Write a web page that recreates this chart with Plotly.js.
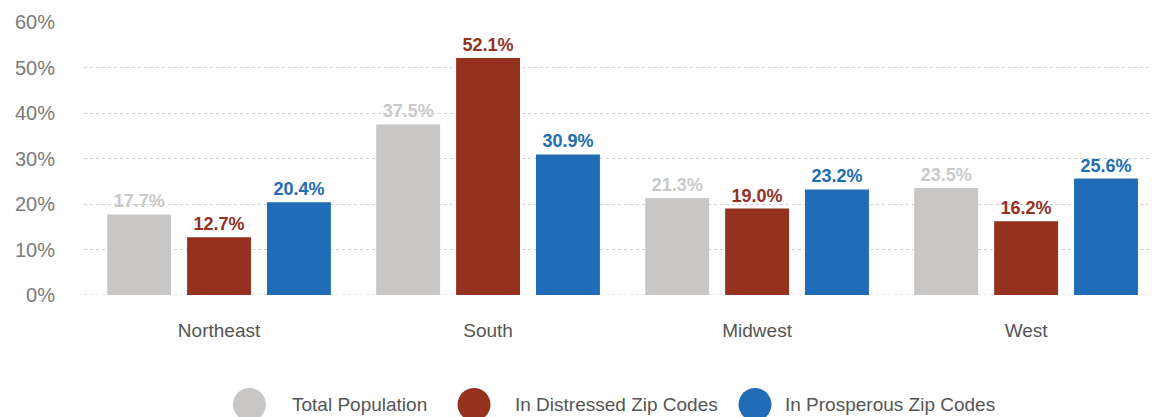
<!DOCTYPE html>
<html>
<head>
<meta charset="utf-8">
<script src="https://cdn.plot.ly/plotly-3.0.1.min.js"></script>
<style>html,body{margin:0;padding:0;background:#fff;}#chart{width:1152px;height:417px;}</style>
</head>
<body>
<div id="chart"></div>
<script>
const regions = ["Northeast", "South", "Midwest", "West"];
const totalPopulation = [17.7, 37.5, 21.3, 23.5];
const distressed = [12.7, 52.1, 19.0, 16.2];
const prosperous = [20.4, 30.9, 23.2, 25.6];
const seriesNames = ["Total Population", "In Distressed Zip Codes", "In Prosperous Zip Codes"];
const yTicks = [0, 10, 20, 30, 40, 50, 60];

const colors = ["#c8c7c5", "#94311f", "#206cb6"];
const labelColors = ["#cacaca", "#94311f", "#206cb6"];
const seriesValues = [totalPopulation, distressed, prosperous];

const traces = seriesValues.map((vals, i) => ({
  type: "bar",
  name: seriesNames[i],
  x: regions,
  y: vals,
  marker: {color: colors[i]},
  texttemplate: "%{y:.1f}%",
  textposition: "outside",
  cliponaxis: false,
  textfont: {family: "Liberation Sans, Arial, sans-serif", size: 18, weight: "bold", color: labelColors[i]},
  hoverinfo: "skip",
  showlegend: false
}));

const W = 1152, H = 417, L = 84, R = 0, T = 22, B = 122;
const pw = W - L - R, ph = H - T - B;
const px = x => (x - L) / pw;
const py = y => (H - B - y) / ph;

const legendX = [249.5, 474, 755];
const legendTextX = [290, 513, 783];
const legendY = 404.5;
const shapes = [{
  type: "line", xref: "paper", yref: "y", x0: 0, x1: 1, y0: 0, y1: 0,
  line: {color: "#cfcfcf", width: 1, dash: "dot"}, layer: "below"
}];
const annotations = [];
seriesNames.forEach((n, i) => {
  shapes.push({
    type: "circle", xref: "paper", yref: "paper",
    xsizemode: "pixel", ysizemode: "pixel",
    xanchor: px(legendX[i]), yanchor: py(legendY),
    x0: -16.5, x1: 16.5, y0: -16.5, y1: 16.5,
    fillcolor: colors[i], line: {width: 0}
  });
  annotations.push({
    text: n, xref: "paper", yref: "paper",
    x: px(legendTextX[i]), y: py(legendY),
    xanchor: "left", yanchor: "middle", showarrow: false,
    font: {family: "Liberation Sans, Arial, sans-serif", size: 19, color: "#555"}
  });
});

const layout = {
  width: W, height: H,
  margin: {l: L, r: R, t: T, b: B},
  paper_bgcolor: "#fff", plot_bgcolor: "#fff",
  barmode: "group",
  bargap: 0.109,
  bargroupgap: 0.2,
  showlegend: false,
  xaxis: {
    type: "category",
    range: [-0.502, 3.468],
    showgrid: false, zeroline: false, showline: false,
    ticks: "", ticklabelstandoff: 22,
    tickfont: {family: "Liberation Sans, Arial, sans-serif", size: 19, color: "#555"},
    fixedrange: true
  },
  yaxis: {
    range: [0, 60],
    tickvals: yTicks,
    ticktext: yTicks.map(v => v + "%"),
    showgrid: true, gridcolor: "#cfcfcf", griddash: "dot", gridwidth: 1,
    zeroline: false, showline: false, ticks: "",
    ticklabelstandoff: 28,
    tickfont: {family: "Liberation Sans, Arial, sans-serif", size: 20, color: "#7a7a7a"},
    fixedrange: true
  },
  shapes: shapes,
  annotations: annotations,
  font: {family: "Liberation Sans, Arial, sans-serif"}
};

Plotly.newPlot("chart", traces, layout, {displayModeBar: false, staticPlot: true});
</script>
</body>
</html>
